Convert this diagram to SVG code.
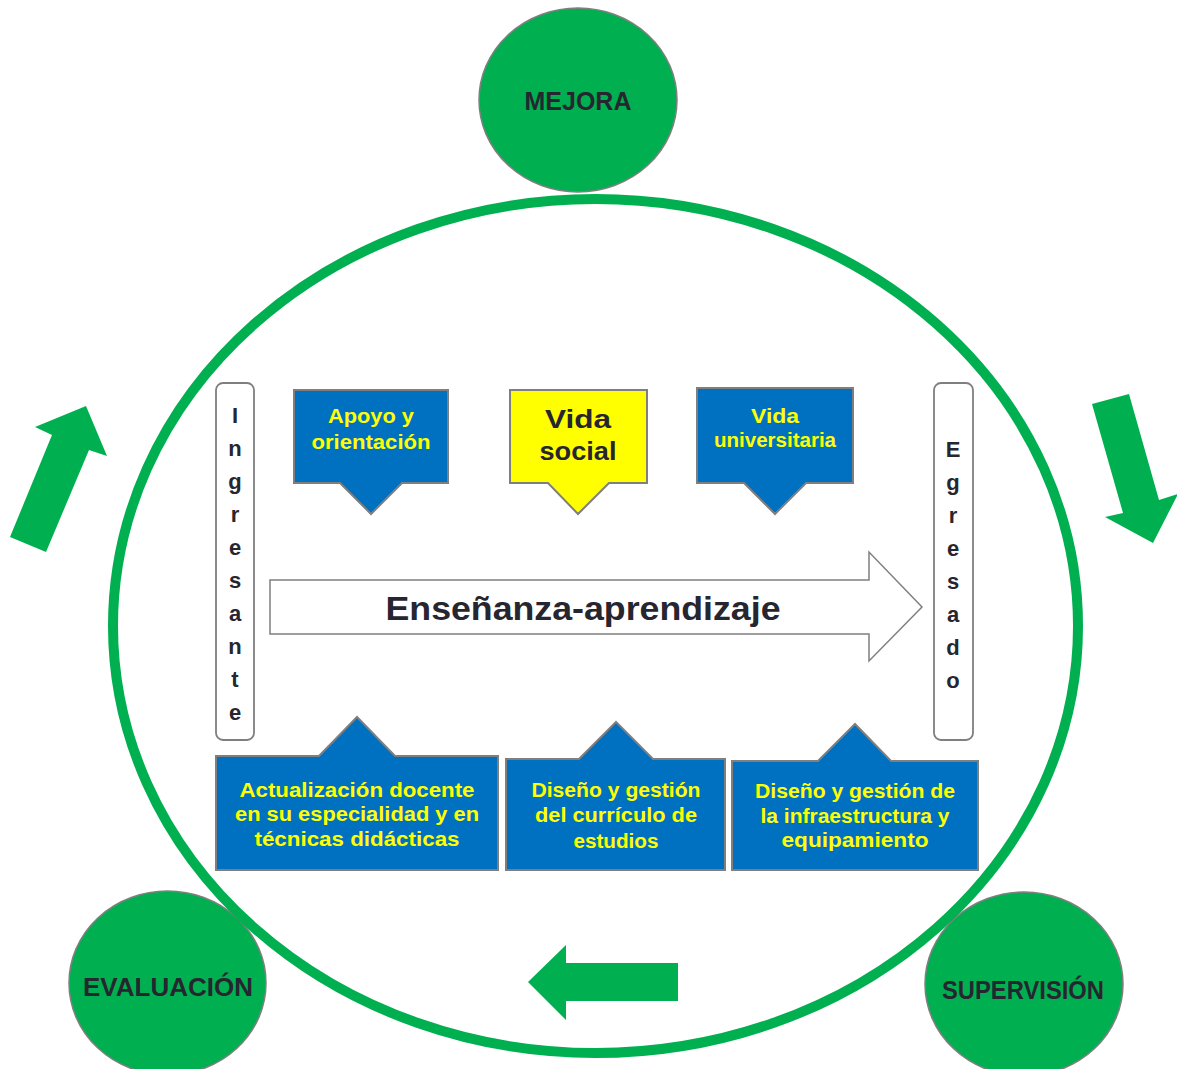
<svg xmlns="http://www.w3.org/2000/svg" width="1177" height="1069" viewBox="0 0 1177 1069">
<style>
.circ{fill:#00B050;stroke:#7F7F7F;stroke-width:1.5}
.ctxt{font-family:"Liberation Sans",Arial,sans-serif;font-weight:bold;fill:#262630;text-anchor:middle}
.blue{fill:#0070C0;stroke:#7F7F7F;stroke-width:2;stroke-linejoin:miter}
.yel{fill:#FFFF00;stroke:#7F7F7F;stroke-width:2}
.btxt{font-family:"Liberation Sans",Arial,sans-serif;font-weight:bold;fill:#FFFF00;text-anchor:middle;font-size:20px}
.vbox{fill:#FFFFFF;stroke:#7F7F7F;stroke-width:1.8}
.vtxt{font-family:"Liberation Sans",Arial,sans-serif;font-weight:bold;fill:#262630;text-anchor:middle;font-size:22px}
.garrow{fill:#00B050}
</style>
<rect x="0" y="0" width="1177" height="1069" fill="#FFFFFF"/>

<g id="mejora">
<ellipse class="circ" cx="578" cy="100" rx="99" ry="92"/>
<text class="ctxt" x="578" y="110" font-size="25" textLength="107" lengthAdjust="spacingAndGlyphs">MEJORA</text>
</g>
<g id="evaluacion">
<ellipse class="circ" cx="167.5" cy="983" rx="98.5" ry="92"/>
<text class="ctxt" x="168" y="996" font-size="26" textLength="170" lengthAdjust="spacingAndGlyphs">EVALUACIÓN</text>
</g>
<g id="supervision">
<ellipse class="circ" cx="1024" cy="984" rx="99" ry="92"/>
<text class="ctxt" x="1023" y="999" font-size="25" textLength="162" lengthAdjust="spacingAndGlyphs">SUPERVISIÓN</text>
</g>

<g id="ring">
<ellipse cx="595.5" cy="626" rx="482.5" ry="427" fill="none" stroke="#00B050" stroke-width="10"/>
</g>

<g id="connectors">
<polygon class="garrow" points="86,406 107,456 89,450 46,552 10,537 52,435 35,427"/>
<polygon class="garrow" points="1092,404 1129,394 1159,500 1178,494 1153,543 1105,517 1123,513"/>
<polygon class="garrow" points="528,982 566,945 566,963 678,963 678,1001 566,1001 566,1020"/>
</g>

<g id="ensenanza">
<polygon points="270,580 869,580 869,552 922,607 869,661 869,634 270,634" fill="#FFFFFF" stroke="#7F7F7F" stroke-width="1.5"/>
<text class="ctxt" x="583" y="620" font-size="34" textLength="395" lengthAdjust="spacingAndGlyphs">Enseñanza-aprendizaje</text>
</g>

<g id="ingresante">
<rect class="vbox" x="216" y="383" width="38" height="357" rx="7"/>
<text class="vtxt" x="235" y="423">I</text>
<text class="vtxt" x="235" y="456">n</text>
<text class="vtxt" x="235" y="489">g</text>
<text class="vtxt" x="235" y="522">r</text>
<text class="vtxt" x="235" y="555">e</text>
<text class="vtxt" x="235" y="588">s</text>
<text class="vtxt" x="235" y="621">a</text>
<text class="vtxt" x="235" y="654">n</text>
<text class="vtxt" x="235" y="687">t</text>
<text class="vtxt" x="235" y="720">e</text>
</g>

<g id="egresado">
<rect class="vbox" x="934" y="383" width="39" height="357" rx="7"/>
<text class="vtxt" x="953" y="457">E</text>
<text class="vtxt" x="953" y="490">g</text>
<text class="vtxt" x="953" y="523">r</text>
<text class="vtxt" x="953" y="556">e</text>
<text class="vtxt" x="953" y="589">s</text>
<text class="vtxt" x="953" y="622">a</text>
<text class="vtxt" x="953" y="655">d</text>
<text class="vtxt" x="953" y="688">o</text>
</g>

<g id="apoyo">
<path class="blue" d="M294,390 H448 V483 H402 L371,514 L340,483 H294 Z"/>
<text class="btxt" x="371" y="423" textLength="86" lengthAdjust="spacingAndGlyphs">Apoyo y</text>
<text class="btxt" x="371" y="449" textLength="119" lengthAdjust="spacingAndGlyphs">orientación</text>
</g>

<g id="vida-social">
<path class="yel" d="M510,390 H647 V483 H609 L578,514 L548,483 H510 Z"/>
<text class="ctxt" x="578" y="428" font-size="26" textLength="66" lengthAdjust="spacingAndGlyphs">Vida</text>
<text class="ctxt" x="578" y="460" font-size="26" textLength="77" lengthAdjust="spacingAndGlyphs">social</text>
</g>

<g id="vida-universitaria">
<path class="blue" d="M697,388 H853 V483 H806 L775,514 L744,483 H697 Z"/>
<text class="btxt" x="775" y="423" textLength="48" lengthAdjust="spacingAndGlyphs">Vida</text>
<text class="btxt" x="775" y="447" textLength="122" lengthAdjust="spacingAndGlyphs">universitaria</text>
</g>

<g id="actualizacion">
<path class="blue" d="M216,756 H319 L357,717 L395,756 H498 V870 H216 Z"/>
<text class="btxt" x="357" y="797" textLength="235" lengthAdjust="spacingAndGlyphs">Actualización docente</text>
<text class="btxt" x="357" y="821" textLength="244" lengthAdjust="spacingAndGlyphs">en su especialidad y en</text>
<text class="btxt" x="357" y="846" textLength="205" lengthAdjust="spacingAndGlyphs">técnicas didácticas</text>
</g>

<g id="curriculo">
<path class="blue" d="M506,759 H579 L616,722 L653,759 H725 V870 H506 Z"/>
<text class="btxt" x="616" y="797" textLength="169" lengthAdjust="spacingAndGlyphs">Diseño y gestión</text>
<text class="btxt" x="616" y="822" textLength="162" lengthAdjust="spacingAndGlyphs">del currículo de</text>
<text class="btxt" x="616" y="848" textLength="85" lengthAdjust="spacingAndGlyphs">estudios</text>
</g>

<g id="infraestructura">
<path class="blue" d="M732,761 H818 L855,724 L891,761 H978 V870 H732 Z"/>
<text class="btxt" x="855" y="798" textLength="200" lengthAdjust="spacingAndGlyphs">Diseño y gestión de</text>
<text class="btxt" x="855" y="823" textLength="189" lengthAdjust="spacingAndGlyphs">la infraestructura y</text>
<text class="btxt" x="855" y="847" textLength="147" lengthAdjust="spacingAndGlyphs">equipamiento</text>
</g>
</svg>
